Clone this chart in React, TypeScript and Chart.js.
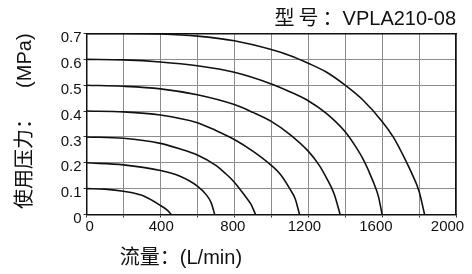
import React, { useEffect, useRef } from 'react';
import { Chart, registerables } from 'chart.js';

Chart.register(...registerables);

const FONT = "'Liberation Sans', 'Noto Sans CJK SC', sans-serif";
const INK = '#111111';
const GRID = '#8c8c8c';

const chartTitle = '型\u2009号\u2009：VPLA210-08';
const xTitle = '      流量：(L/min)';
const yTitle = ' 使用压力：\u3000  (MPa)';

const xTickValues = [0, 400, 800, 1200, 1600, 2000];
const yTickValues = [0, 0.1, 0.2, 0.3, 0.4, 0.5, 0.6, 0.7];
const yTickLabels = ['0', '0.1', '0.2', '0.3', '0.4', '0.5', '0.6', '0.7'];

// flow (L/min) vs. pressure (MPa) for each supply pressure
const flow01 = [0, 100, 200, 300, 400, 440, 459];
const pres01 = [0.1, 0.098, 0.09, 0.074, 0.035, 0.015, 0];

const flow02 = [0, 200, 400, 500, 600, 650, 675, 694];
const pres02 = [0.2, 0.192, 0.17, 0.15, 0.11, 0.075, 0.045, 0];

const flow03 = [0, 200, 400, 500, 600, 700, 750, 800, 860, 890, 915];
const pres03 = [0.3, 0.295, 0.275, 0.255, 0.23, 0.19, 0.16, 0.125, 0.07, 0.04, 0];

const flow04 = [0, 200, 400, 600, 700, 800, 900, 1000, 1050, 1100, 1130, 1153];
const pres04 = [0.4, 0.397, 0.385, 0.355, 0.325, 0.29, 0.245, 0.19, 0.155, 0.1, 0.06, 0];

const flow05 = [0, 200, 400, 600, 800, 900, 1000, 1100, 1200, 1260, 1300, 1340, 1373];
const pres05 = [0.5, 0.496, 0.486, 0.463, 0.425, 0.395, 0.36, 0.31, 0.245, 0.19, 0.14, 0.08, 0];

const flow06 = [0, 200, 400, 600, 800, 1000, 1100, 1200, 1300, 1400, 1450, 1500, 1550, 1580, 1600];
const pres06 = [0.6, 0.598, 0.59, 0.575, 0.55, 0.505, 0.475, 0.44, 0.39, 0.32, 0.27, 0.21, 0.13, 0.07, 0];

const flow07 = [0, 200, 400, 600, 800, 1000, 1100, 1200, 1300, 1400, 1500, 1600, 1660, 1720, 1760, 1800, 1830];
const pres07 = [0.7, 0.7, 0.698, 0.69, 0.672, 0.638, 0.615, 0.585, 0.55, 0.5, 0.44, 0.36, 0.3, 0.22, 0.16, 0.09, 0];

const curves = [
  { flow: flow01, pres: pres01 },
  { flow: flow02, pres: pres02 },
  { flow: flow03, pres: pres03 },
  { flow: flow04, pres: pres04 },
  { flow: flow05, pres: pres05 },
  { flow: flow06, pres: pres06 },
  { flow: flow07, pres: pres07 },
];

export default function App() {
  const ref = useRef<HTMLCanvasElement>(null);

  useEffect(() => {
    const canvas = ref.current;
    if (!canvas) return;
    Chart.defaults.font.family = FONT;
    const chart = new Chart(canvas, {
      type: 'line',
      data: {
        datasets: curves.map((c) => ({
          data: c.flow.map((f, i) => ({ x: f, y: c.pres[i] })),
          borderColor: INK,
          borderWidth: 1.6,
          pointRadius: 0,
          fill: false,
          cubicInterpolationMode: 'monotone' as const,
          xAxisID: 'x',
          yAxisID: 'y',
        })),
      },
      options: {
        animation: false,
        responsive: false,
        devicePixelRatio: 1,
        layout: { padding: { left: 0, right: 16, top: 0, bottom: 0 } },
        plugins: {
          legend: { display: false },
          tooltip: { enabled: false },
          title: {
            display: true,
            text: chartTitle,
            align: 'end',
            fullSize: false,
            color: INK,
            font: { family: FONT, size: 20, weight: 'normal', lineHeight: 1.2 },
            padding: { top: 7.5, bottom: 2 },
          },
        },
        scales: {
          x: {
            type: 'linear',
            position: 'bottom',
            min: 0,
            max: 2000,
            ticks: { display: false, stepSize: 200 },
            grid: { color: GRID, lineWidth: 1, drawTicks: true, tickLength: 3, tickColor: '#333' },
            border: { display: true, color: INK, width: 1.5 },
            afterFit: (s: any) => {
              s.height = 3;
              s.paddingLeft = 0;
              s.paddingRight = 0;
            },
          },
          xLabels: {
            type: 'linear',
            position: 'bottom',
            min: -18,
            max: 2047.5,
            afterBuildTicks: (s: any) => {
              s.ticks = xTickValues.map((v) => ({ value: v }));
            },
            ticks: {
              autoSkip: false,
              maxRotation: 0,
              padding: 0.5,
              color: INK,
              font: { family: FONT, size: 15 },
              callback: (v: any) => String(v),
            },
            grid: { display: false, drawTicks: false },
            border: { display: false },
            title: {
              display: true,
              text: xTitle,
              align: 'start',
              color: INK,
              font: { family: FONT, size: 20, lineHeight: 1.2 },
              padding: { top: 0, bottom: 4 },
            },
            afterFit: (s: any) => {
              s.height = 56.5;
              s.paddingLeft = 0;
              s.paddingRight = 0;
            },
          },
          y: {
            type: 'linear',
            position: 'left',
            min: 0,
            max: 0.7,
            afterBuildTicks: (s: any) => {
              s.ticks = yTickValues.map((v) => ({ value: v }));
            },
            ticks: {
              padding: 2,
              labelOffset: 4.5,
              color: INK,
              font: { family: FONT, size: 15 },
              callback: (_v: any, i: number) => yTickLabels[i],
            },
            grid: { color: GRID, lineWidth: 1, tickLength: 3, tickColor: '#333' },
            border: { display: true, color: INK, width: 1.5 },
            title: {
              display: true,
              text: yTitle,
              color: INK,
              font: { family: FONT, size: 20, lineHeight: 1.2 },
              padding: { top: 13, bottom: 0 },
            },
            afterFit: (s: any) => {
              s.width = 86.5;
            },
          },
          xTop: {
            type: 'linear',
            position: 'top',
            min: 0,
            max: 1,
            ticks: { display: false },
            grid: { display: true, drawOnChartArea: false, drawTicks: false, color: 'rgba(0,0,0,0)' },
            border: { display: true, color: INK, width: 1.5 },
            afterFit: (s: any) => {
              s.height = 0;
            },
          },
          yRight: {
            type: 'linear',
            position: 'right',
            min: 0,
            max: 1,
            ticks: { display: false },
            grid: { display: true, drawOnChartArea: false, drawTicks: false, color: 'rgba(0,0,0,0)' },
            border: { display: true, color: INK, width: 1.5 },
            afterFit: (s: any) => {
              s.width = 0;
            },
          },
        },
      } as any,
    });
    return () => chart.destroy();
  }, []);

  return (
    <div style={{ position: 'fixed', left: 0, top: 0, width: 472, height: 274, background: '#fff' }}>
      <canvas ref={ref} width={472} height={274} style={{ display: 'block' }} />
    </div>
  );
}
